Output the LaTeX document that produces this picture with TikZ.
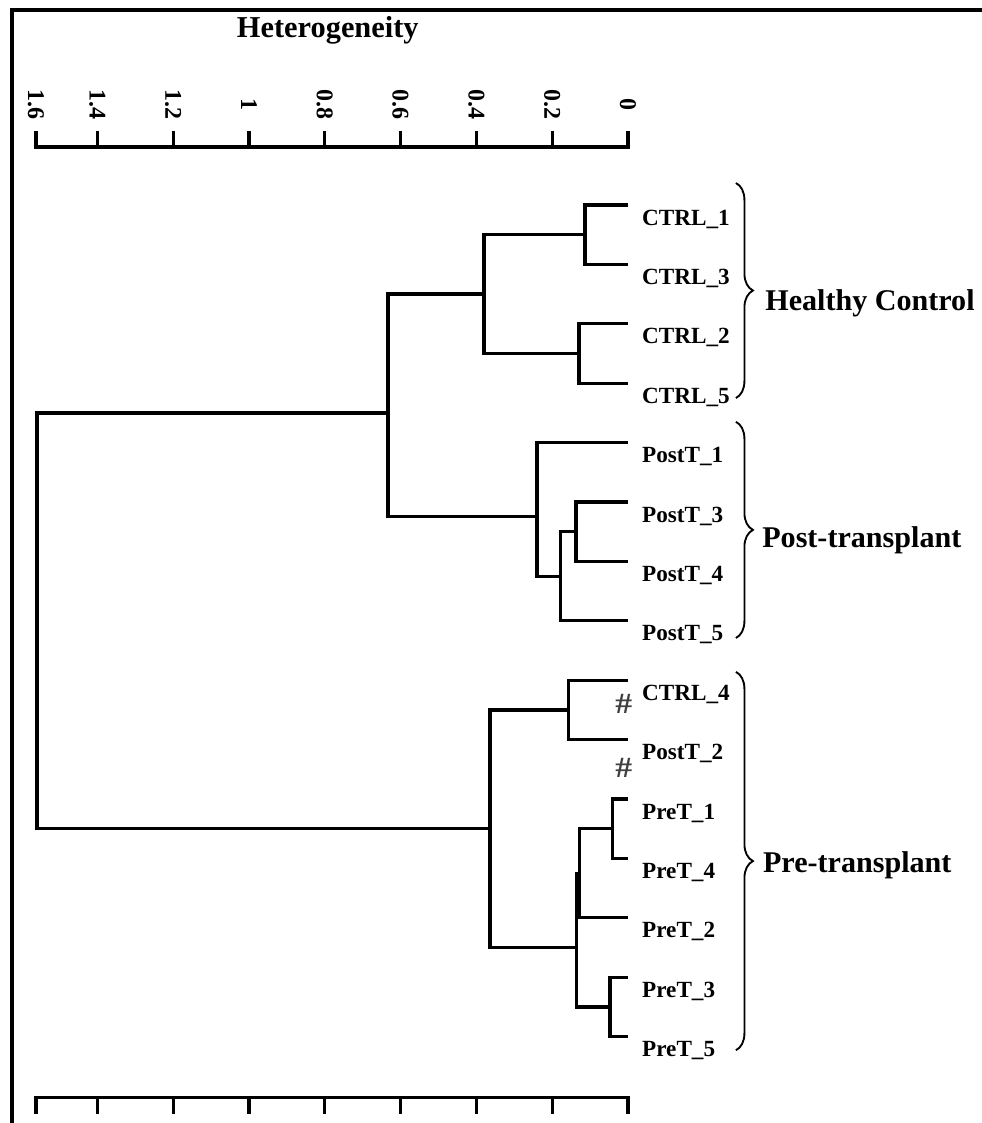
\documentclass[tikz,border=0pt]{standalone}
\usepackage{fontspec}
\setmainfont{Liberation Serif}
\usetikzlibrary{decorations.pathreplacing}

\tikzset{
  branch/.style={line width=2.5pt},
  axisline/.style={line width=2.4pt},
  frameline/.style={line width=2.5pt},
  leaf/.style={anchor=base west, inner sep=0pt, xshift=0.37cm, yshift=-0.53cm,
    font=\fontsize{17.4}{17.4}\selectfont\bfseries},
  group/.style={anchor=base west, inner sep=0pt,
    font=\fontsize{22.6}{22.6}\selectfont\bfseries},
  ticklabel/.style={rotate=-90, inner sep=0pt,
    font=\fontsize{18}{18}\selectfont\bfseries},
  hash/.style={inner sep=0pt, xscale=1.15, text=black!75,
    font=\fontsize{22}{22}\selectfont\bfseries},
  groupbrace/.style={line width=1.4pt, decorate,
    decoration={brace, amplitude=0.45cm}}
}

\begin{document}
\begin{tikzpicture}[x=-10cm, y=-1.5675cm]
  \useasboundingbox (1.657,-3.451) rectangle (-0.934,15.455);
  \draw[frameline] (-0.934,-3.283) -- (1.625,-3.283) -- (1.625,15.455);

  \node[font=\fontsize{22.8}{22.8}\selectfont\bfseries] (title) at (0.792,-2.946) {Heterogeneity};

  \draw[axisline] (1.562,-1.246) -- (1.562,-0.976) -- (0,-0.976) -- (0,-1.246)
    (0.2,-0.976) -- (0.2,-1.246) (0.4,-0.976) -- (0.4,-1.246)
    (0.6,-0.976) -- (0.6,-1.246) (0.8,-0.976) -- (0.8,-1.246)
    (1.0,-0.976) -- (1.0,-1.246) (1.2,-0.976) -- (1.2,-1.246)
    (1.4,-0.976) -- (1.4,-1.246);
  \node[ticklabel] (t16) at (1.562,-1.684) {1.6};
  \node[ticklabel] (t14) at (1.4,-1.684) {1.4};
  \node[ticklabel] (t12) at (1.2,-1.684) {1.2};
  \node[ticklabel] (t10) at (1.0,-1.684) {1};
  \node[ticklabel] (t08) at (0.8,-1.684) {0.8};
  \node[ticklabel] (t06) at (0.6,-1.684) {0.6};
  \node[ticklabel] (t04) at (0.4,-1.684) {0.4};
  \node[ticklabel] (t02) at (0.2,-1.684) {0.2};
  \node[ticklabel] (t00) at (0,-1.684) {0};

  \draw[axisline] (1.562,15.30) -- (1.562,15.02) -- (0,15.02) -- (0,15.30)
    (0.2,15.02) -- (0.2,15.30) (0.4,15.02) -- (0.4,15.30)
    (0.6,15.02) -- (0.6,15.30) (0.8,15.02) -- (0.8,15.30)
    (1.0,15.02) -- (1.0,15.30) (1.2,15.02) -- (1.2,15.30)
    (1.4,15.02) -- (1.4,15.30);

  \coordinate (ctrl1) at (0,0);
  \coordinate (ctrl3) at (0,1);
  \coordinate (ctrl2) at (0,2);
  \coordinate (ctrl5) at (0,3);
  \coordinate (post1) at (0,4);
  \coordinate (post3) at (0,5);
  \coordinate (post4) at (0,6);
  \coordinate (post5) at (0,7);
  \coordinate (ctrl4) at (0,8);
  \coordinate (post2) at (0,9);
  \coordinate (pre1) at (0,10);
  \coordinate (pre4) at (0,11);
  \coordinate (pre2) at (0,12);
  \coordinate (pre3) at (0,13);
  \coordinate (pre5) at (0,14);

  \node[leaf] (lctrl1) at (ctrl1) {CTRL\_1};
  \node[leaf] (lctrl3) at (ctrl3) {CTRL\_3};
  \node[leaf] (lctrl2) at (ctrl2) {CTRL\_2};
  \node[leaf] (lctrl5) at (ctrl5) {CTRL\_5};
  \node[leaf] (lpost1) at (post1) {PostT\_1};
  \node[leaf] (lpost3) at (post3) {PostT\_3};
  \node[leaf] (lpost4) at (post4) {PostT\_4};
  \node[leaf] (lpost5) at (post5) {PostT\_5};
  \node[leaf] (lctrl4) at (ctrl4) {CTRL\_4};
  \node[leaf] (lpost2) at (post2) {PostT\_2};
  \node[leaf] (lpre1) at (pre1) {PreT\_1};
  \node[leaf] (lpre4) at (pre4) {PreT\_4};
  \node[leaf] (lpre2) at (pre2) {PreT\_2};
  \node[leaf] (lpre3) at (pre3) {PreT\_3};
  \node[leaf] (lpre5) at (pre5) {PreT\_5};
  \node[hash] (hash1) at (0.0106,8.40) {\#};
  \node[hash] (hash2) at (0.0106,9.48) {\#};

  \coordinate (m13) at (0.113,0.5);
  \coordinate (m25) at (0.129,2.5);
  \coordinate (mHC) at (0.380,1.5);
  \coordinate (m34) at (0.137,5.5);
  \coordinate (m345) at (0.177,6.25);
  \coordinate (mPT) at (0.240,5.25);
  \coordinate (mUp) at (0.633,3.5);
  \coordinate (m84) at (0.156,8.5);
  \coordinate (m14) at (0.040,10.5);
  \coordinate (m142) at (0.127,11.25);
  \coordinate (m35) at (0.047,13.5);
  \coordinate (mPre) at (0.135,12.5);
  \coordinate (mLow) at (0.364,10.5);
  \coordinate (root) at (1.559,7);

  \draw[branch] (ctrl1) -| (m13) |- (ctrl3);
  \draw[branch] (ctrl2) -| (m25) |- (ctrl5);
  \draw[branch] (m13) -| (mHC) |- (m25);
  \draw[branch] (post3) -| (m34) |- (post4);
  \draw[branch] (m34) -| (m345) |- (post5);
  \draw[branch] (post1) -| (mPT) |- (m345);
  \draw[branch] (mHC) -| (mUp) |- (mPT);
  \draw[branch] (ctrl4) -| (m84) |- (post2);
  \draw[branch] (pre1) -| (m14) |- (pre4);
  \draw[branch] (m14) -| (m142) |- (pre2);
  \draw[branch] (pre3) -| (m35) |- (pre5);
  \draw[branch] (m142) -| (mPre) |- (m35);
  \draw[branch] (m84) -| (mLow) |- (mPre);
  \draw[branch] (mUp) -| (root) |- (mLow);

  \draw[groupbrace] (-0.285,-0.37) -- (-0.285,3.25);
  \draw[groupbrace] (-0.285,3.65) -- (-0.285,7.29);
  \draw[groupbrace] (-0.285,7.86) -- (-0.285,14.23);
  \node[group] (healthy) at (-0.362,1.77) {Healthy Control};
  \node[group] (posttx) at (-0.354,5.76) {Post-transplant};
  \node[group] (pretx) at (-0.356,11.23) {Pre-transplant};
\end{tikzpicture}
\end{document}
